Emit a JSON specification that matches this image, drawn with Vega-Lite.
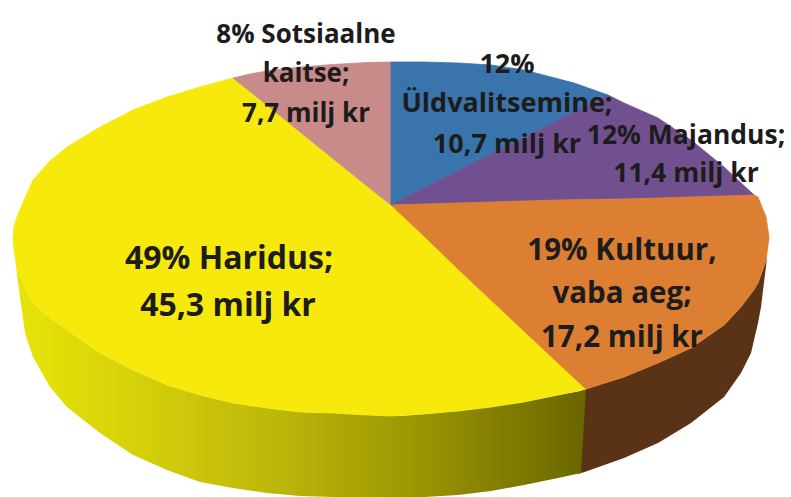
{"$schema":"https://vega.github.io/schema/vega-lite/v6.json","width":791,"height":497,"padding":0,"autosize":{"type":"none"},"background":"white","config":{"view":{"stroke":null}},
"datasets":{"shapes":[
{"part":"Haridus","x":13,"y":240,"y2":240},{"part":"Haridus","x":14,"y":226,"y2":250},{"part":"Haridus","x":17,"y":217,"y2":268},{"part":"Haridus","x":24,"y":200,"y2":286},{"part":"Haridus","x":33,"y":180,"y2":303},{"part":"Haridus","x":50,"y":161,"y2":318},{"part":"Haridus","x":67,"y":147,"y2":330},{"part":"Haridus","x":100,"y":127,"y2":353},{"part":"Haridus","x":133,"y":110,"y2":370},{"part":"Haridus","x":167,"y":97,"y2":385},{"part":"Haridus","x":200,"y":87,"y2":395},{"part":"Haridus","x":233,"y":78,"y2":403},{"part":"Haridus","x":267,"y":105,"y2":408},{"part":"Haridus","x":300,"y":132,"y2":412},{"part":"Haridus","x":333,"y":158.5,"y2":413},{"part":"Haridus","x":367,"y":186,"y2":415},{"part":"Haridus","x":391,"y":205,"y2":416},{"part":"Haridus","x":424,"y":236,"y2":414},{"part":"Haridus","x":458,"y":269,"y2":411},{"part":"Haridus","x":491,"y":300,"y2":407},{"part":"Haridus","x":524,"y":331,"y2":402},{"part":"Haridus","x":558,"y":363,"y2":395},{"part":"Haridus","x":586,"y":389,"y2":389},
{"part":"Sotsiaalne kaitse","x":233,"y":78,"y2":78},{"part":"Sotsiaalne kaitse","x":250,"y":74,"y2":91.6},{"part":"Sotsiaalne kaitse","x":267,"y":71,"y2":105},{"part":"Sotsiaalne kaitse","x":300,"y":67,"y2":132},{"part":"Sotsiaalne kaitse","x":333,"y":64.5,"y2":158.5},{"part":"Sotsiaalne kaitse","x":367,"y":62.5,"y2":186},{"part":"Sotsiaalne kaitse","x":391,"y":62,"y2":205},
{"part":"Üldvalitsemine","x":391,"y":62,"y2":205},{"part":"Üldvalitsemine","x":424,"y":62,"y2":188},{"part":"Üldvalitsemine","x":458,"y":63,"y2":171},{"part":"Üldvalitsemine","x":491,"y":65,"y2":154},{"part":"Üldvalitsemine","x":524,"y":70,"y2":138},{"part":"Üldvalitsemine","x":574,"y":83,"y2":112},{"part":"Üldvalitsemine","x":608,"y":95,"y2":95},
{"part":"Majandus","x":391,"y":205,"y2":205},{"part":"Majandus","x":424,"y":188,"y2":204},{"part":"Majandus","x":458,"y":171,"y2":203},{"part":"Majandus","x":491,"y":154,"y2":202},{"part":"Majandus","x":524,"y":138,"y2":201},{"part":"Majandus","x":574,"y":112,"y2":200},{"part":"Majandus","x":608,"y":95,"y2":199},{"part":"Majandus","x":624,"y":103,"y2":199},{"part":"Majandus","x":658,"y":118,"y2":198},{"part":"Majandus","x":691,"y":140,"y2":197},{"part":"Majandus","x":724,"y":167,"y2":196},{"part":"Majandus","x":754,"y":195,"y2":195},
{"part":"Kultuur, vaba aeg","x":391,"y":205,"y2":205},{"part":"Kultuur, vaba aeg","x":424,"y":204,"y2":236},{"part":"Kultuur, vaba aeg","x":458,"y":203,"y2":269},{"part":"Kultuur, vaba aeg","x":491,"y":202,"y2":300},{"part":"Kultuur, vaba aeg","x":524,"y":201,"y2":331},{"part":"Kultuur, vaba aeg","x":558,"y":200,"y2":363},{"part":"Kultuur, vaba aeg","x":586,"y":199.5,"y2":389},{"part":"Kultuur, vaba aeg","x":624,"y":199,"y2":377},{"part":"Kultuur, vaba aeg","x":658,"y":198,"y2":363},{"part":"Kultuur, vaba aeg","x":691,"y":197,"y2":348},{"part":"Kultuur, vaba aeg","x":724,"y":196,"y2":325},{"part":"Kultuur, vaba aeg","x":741,"y":195.5,"y2":307},{"part":"Kultuur, vaba aeg","x":754,"y":195,"y2":290},{"part":"Kultuur, vaba aeg","x":758,"y":197,"y2":283},{"part":"Kultuur, vaba aeg","x":766,"y":217,"y2":260},{"part":"Kultuur, vaba aeg","x":769,"y":237,"y2":238}
],
"walls":[
{"part":"kultuur","x":578,"y":392,"y2":474},{"part":"kultuur","x":586,"y":389,"y2":471.5},{"part":"kultuur","x":624,"y":377,"y2":458},{"part":"kultuur","x":658,"y":363,"y2":443},{"part":"kultuur","x":691,"y":348,"y2":423},{"part":"kultuur","x":724,"y":325,"y2":397},{"part":"kultuur","x":741,"y":307,"y2":373},{"part":"kultuur","x":751,"y":292,"y2":353},{"part":"kultuur","x":758,"y":283,"y2":323},{"part":"kultuur","x":761,"y":275,"y2":307},{"part":"kultuur","x":767,"y":258,"y2":258},
{"part":"haridus","x":15,"y":255,"y2":255},{"part":"haridus","x":17,"y":268,"y2":275},{"part":"haridus","x":20,"y":277,"y2":297},{"part":"haridus","x":25,"y":288,"y2":333},{"part":"haridus","x":33,"y":303,"y2":357},{"part":"haridus","x":50,"y":318,"y2":387},{"part":"haridus","x":67,"y":330,"y2":407},{"part":"haridus","x":100,"y":353,"y2":433},{"part":"haridus","x":133,"y":370,"y2":455},{"part":"haridus","x":167,"y":385,"y2":470},{"part":"haridus","x":200,"y":395,"y2":482},{"part":"haridus","x":233,"y":403,"y2":488},{"part":"haridus","x":267,"y":408,"y2":493},{"part":"haridus","x":300,"y":412,"y2":496},{"part":"haridus","x":333,"y":413,"y2":497},{"part":"haridus","x":367,"y":415,"y2":497},{"part":"haridus","x":400,"y":416,"y2":497},{"part":"haridus","x":424,"y":414,"y2":497},{"part":"haridus","x":458,"y":411,"y2":495},{"part":"haridus","x":491,"y":407,"y2":491},{"part":"haridus","x":524,"y":402,"y2":485},{"part":"haridus","x":558,"y":395,"y2":478},{"part":"haridus","x":581,"y":391,"y2":473},{"part":"haridus","x":586,"y":389,"y2":389}
],
"labels":[
{"slice":"Sotsiaalne kaitse","text":"8% Sotsiaalne","x":306,"y":43},{"slice":"Sotsiaalne kaitse","text":"kaitse;","x":306,"y":82},{"slice":"Sotsiaalne kaitse","text":"7,7 milj kr","x":306,"y":122},
{"slice":"Üldvalitsemine","text":"12%","x":507,"y":73},{"slice":"Üldvalitsemine","text":"Üldvalitsemine;","x":507,"y":112},{"slice":"Üldvalitsemine","text":"10,7 milj kr","x":507,"y":153},
{"slice":"Majandus","text":"12% Majandus;","x":686,"y":144},{"slice":"Majandus","text":"11,4 milj kr","x":686,"y":182},
{"slice":"Kultuur, vaba aeg","text":"19% Kultuur,","x":622,"y":260},{"slice":"Kultuur, vaba aeg","text":"vaba aeg;","x":622,"y":303},{"slice":"Kultuur, vaba aeg","text":"17,2 milj kr","x":622,"y":347},
{"slice":"Haridus","text":"49% Haridus;","x":229,"y":269},{"slice":"Haridus","text":"45,3 milj kr","x":228,"y":316}
]},
"layer":[
{"data":{"name":"walls"},"transform":[{"filter":"datum.part === 'kultuur'"}],"mark":{"type":"area","color":"#5a3316","clip":true},"encoding":{"x":{"field":"x","type":"quantitative","scale":{"domain":[0,791],"nice":false,"zero":false},"axis":null},"y":{"field":"y","type":"quantitative","scale":{"domain":[497,0],"nice":false,"zero":false},"axis":null},"y2":{"field":"y2"}}},
{"data":{"name":"walls"},"transform":[{"filter":"datum.part === 'haridus'"}],"mark":{"type":"area","clip":true,"color":{"gradient":"linear","x1":0,"y1":0,"x2":1,"y2":0,"stops":[{"offset":0,"color":"#e8e408"},{"offset":0.2,"color":"#d6d20a"},{"offset":0.45,"color":"#bdb80a"},{"offset":0.7,"color":"#9c9604"},{"offset":1,"color":"#696600"}]}},"encoding":{"x":{"field":"x","type":"quantitative","axis":null},"y":{"field":"y","type":"quantitative","axis":null},"y2":{"field":"y2"}}},
{"data":{"name":"shapes"},"mark":{"type":"area","strokeWidth":0.8},"encoding":{"x":{"field":"x","type":"quantitative","axis":null},"y":{"field":"y","type":"quantitative","axis":null},"y2":{"field":"y2"},"color":{"field":"part","type":"nominal","legend":null,"scale":{"domain":["Haridus","Sotsiaalne kaitse","Üldvalitsemine","Majandus","Kultuur, vaba aeg"],"range":["#f8e90c","#c98a8a","#3a74ac","#70508f","#dc7f33"]}},"stroke":{"field":"part","type":"nominal","legend":null,"scale":{"domain":["Haridus","Sotsiaalne kaitse","Üldvalitsemine","Majandus","Kultuur, vaba aeg"],"range":["#f8e90c","#c98a8a","#3a74ac","#70508f","#dc7f33"]}}}},
{"data":{"name":"labels"},"mark":{"type":"text","font":"Open Sans","fontWeight":"bold","align":"center","baseline":"alphabetic","color":"#1c1c1c"},"encoding":{"x":{"field":"x","type":"quantitative","axis":null},"y":{"field":"y","type":"quantitative","axis":null},"text":{"field":"text"},"size":{"field":"slice","type":"nominal","legend":null,"scale":{"type":"ordinal","domain":["Sotsiaalne kaitse","Üldvalitsemine","Majandus","Kultuur, vaba aeg","Haridus"],"range":[26,27,26.5,29.5,32]}}}}
]}
